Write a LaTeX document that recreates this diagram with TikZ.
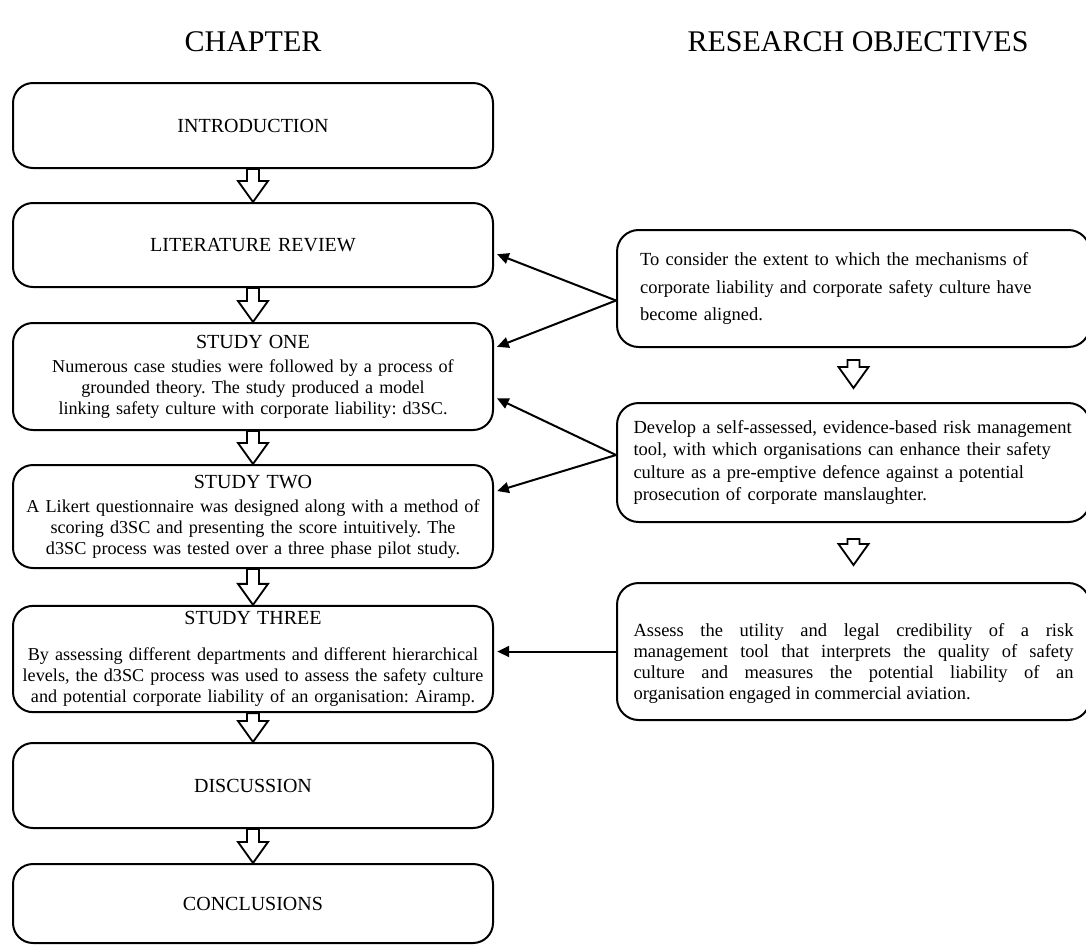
\documentclass[tikz,border=0pt]{standalone}
\usepackage{fontspec}
\setmainfont{Liberation Serif}
\usetikzlibrary{arrows.meta}
\frenchspacing
\newcommand\boxhead[1]{{\fontsize{12}{14}\selectfont #1}}

\begin{document}
\begin{tikzpicture}[x=0.6pt,y=-0.6pt,
  chapbox/.style={draw,line width=1.2pt,rounded corners=12pt,minimum width=288pt,text width=278pt,inner xsep=5pt,align=center,font=\fontsize{12}{14}\selectfont},
  studybox/.style={chapbox,font=\fontsize{10.9}{12.6}\selectfont},
  objbox/.style={draw,line width=1.2pt,rounded corners=13pt,minimum width=283.8pt,text width=264pt},
  hollow/.style={draw,line width=1.1pt,fill=white,line join=miter},
  link/.style={-{Triangle[length=7pt,width=6.5pt]},line width=1.2pt,shorten >=2pt}]
\useasboundingbox (0,0) rectangle (1086,945);
\node[font=\fontsize{18}{22}\selectfont] (chap) at (253,42) {CHAPTER};
\node[font=\fontsize{18}{22}\selectfont] (resobj) at (858,42) {RESEARCH OBJECTIVES};

\node[chapbox,minimum height=51pt] (intro) at (253,125.5) {INTRODUCTION};
\node[chapbox,minimum height=50.4pt] (lit) at (253,245) {LITERATURE REVIEW};
\node[studybox,minimum height=64.2pt] (one) at (253,376.5) {\boxhead{STUDY ONE}\\[2pt]
  Numerous case studies were followed by a process of\\
  grounded theory. The study produced a model\\
  linking safety culture with corporate liability: d3SC.};
\node[studybox,minimum height=61.8pt] (two) at (253,516.5) {\boxhead{STUDY TWO}\\[2pt]
  A Likert questionnaire was designed along with a method of\\
  scoring d3SC and presenting the score intuitively. The\\
  d3SC process was tested over a three phase pilot study.};
\node[studybox,minimum height=60.6pt] (three) at (253,659) {\boxhead{STUDY THREE}\\[9pt]
  By assessing different departments and different hierarchical\\
  levels, the d3SC process was used to assess the safety culture\\
  and potential corporate liability of an organisation: Airamp.};
\node[chapbox,minimum height=51pt] (disc) at (253,785.5) {DISCUSSION};
\node[chapbox,minimum height=47.4pt] (concl) at (253,903.5) {CONCLUSIONS};

\node[objbox,text width=256pt,align=left,minimum height=70.2pt,font=\fontsize{11.1}{16.4}\selectfont] (obj1) at (853.5,288.5)
  {To consider the extent to which the mechanisms of\\
   corporate liability and corporate safety culture have\\
   become aligned.\par\vspace{7pt}};
\node[objbox,align=left,minimum height=71.4pt,font=\fontsize{11.1}{13.4}\selectfont] (obj2) at (853.5,462.5)
  {Develop a self-assessed, evidence-based risk management\\
   tool, with which organisations can enhance their safety\\
   culture as a pre-emptive defence against a potential\\
   prosecution of corporate manslaughter.\par\vspace{3.6pt}};
\node[objbox,align=justify,minimum height=82.2pt,font=\fontsize{11.1}{12.6}\selectfont] (obj3) at (853.5,651.5)
  {\rule{0pt}{22pt}Assess the utility and legal credibility of a risk\linebreak
   management tool that interprets the quality of safety\linebreak
   culture and measures the potential liability of an\linebreak
   organisation engaged in commercial aviation.};

\coordinate (r12a) at ([yshift=-7.2pt]obj1.south);
\coordinate (r12b) at ([yshift=8.4pt]obj2.north);
\coordinate (r23a) at ([yshift=-9.6pt]obj2.south);
\coordinate (r23b) at ([yshift=10.2pt]obj3.north);

\foreach \src/\dst in {intro.south/lit.north,lit.south/one.north,one.south/two.north,two.south/three.north,three.south/disc.north,disc.south/concl.north,r12a/r12b,r23a/r23b}
  \draw[hollow] (\dst) -- ++(-15,-21) -- ++(9,0) |- ([xshift=-3.6pt]\src) -- ([xshift=3.6pt]\src) -- ([xshift=3.6pt,yshift=12.6pt]\dst) -- ++(9,0) -- cycle;

\draw[link] ([yshift=-7.2pt]obj1.west) -- ([yshift=-4.8pt]lit.east);
\draw[link] ([yshift=-7.2pt]obj1.west) -- ([yshift=17.1pt]one.east);
\draw[link] ([yshift=4.5pt]obj2.west) -- ([yshift=-12.3pt]one.east);
\draw[link] ([yshift=4.5pt]obj2.west) -- ([yshift=14.7pt]two.east);
\draw[link] (obj3.west) -- (obj3.west -| three.east);
\end{tikzpicture}
\end{document}
